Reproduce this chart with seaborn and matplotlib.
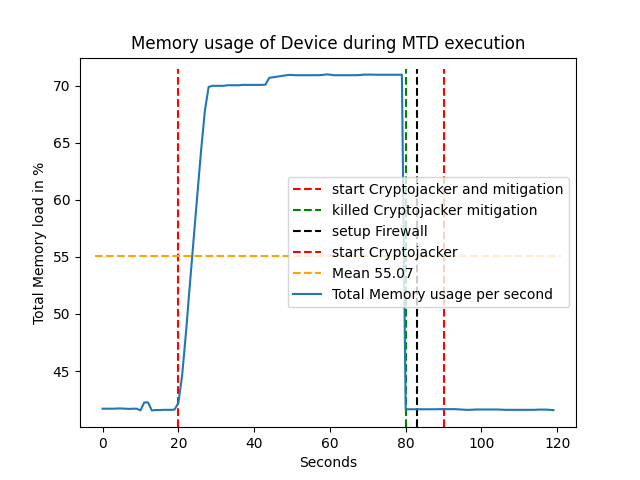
import numpy as np
import pandas as pd
import matplotlib
matplotlib.use("Agg")
import matplotlib.pyplot as plt
import seaborn as sns

# memory load per second
seconds = list(range(120))
memory = [
    41.70, 41.70, 41.70, 41.70, 41.72, 41.72, 41.70, 41.68, 41.70, 41.70,  # 0-9
    41.55, 42.25, 42.25, 41.55, 41.58, 41.58, 41.60, 41.60, 41.60, 41.62,  # 10-19
    42.20, 44.60, 48.30, 52.40, 56.40, 60.40, 64.30, 67.80, 69.90, 70.00,  # 20-29
    70.00, 70.00, 70.00, 70.05, 70.05, 70.05, 70.05, 70.08, 70.08, 70.08,  # 30-39
    70.08, 70.08, 70.08, 70.10, 70.70, 70.75, 70.80, 70.85, 70.90, 70.95,  # 40-49
    70.95, 70.93, 70.93, 70.93, 70.93, 70.93, 70.93, 70.93, 70.95, 71.00,  # 50-59
    70.98, 70.93, 70.93, 70.93, 70.93, 70.93, 70.93, 70.93, 70.95, 70.98,  # 60-69
    70.98, 70.98, 70.97, 70.97, 70.97, 70.97, 70.97, 70.97, 70.97, 70.97,  # 70-79
    41.65, 41.65, 41.65, 41.65, 41.65, 41.65, 41.65, 41.65, 41.65, 41.66,  # 80-89
    41.66, 41.66, 41.66, 41.66, 41.64, 41.62, 41.60, 41.60, 41.62, 41.63,  # 90-99
    41.63, 41.63, 41.63, 41.63, 41.63, 41.62, 41.60, 41.60, 41.60, 41.60,  # 100-109
    41.60, 41.60, 41.60, 41.60, 41.60, 41.62, 41.62, 41.62, 41.60, 41.57,  # 110-119
]
mean_value = 55.07

# events: (second, label, colour)
event_secs = [20, 80, 83, 90]
event_labels = ["start Cryptojacker and mitigation", "killed Cryptojacker mitigation",
                "setup Firewall", "start Cryptojacker"]
event_colors = ["red", "green", "black", "red"]

df = pd.DataFrame({"Seconds": seconds, "memory": memory})

fig, ax = plt.subplots(figsize=(6.4, 4.8), dpi=100)

for sec, lab, col in zip(event_secs, event_labels, event_colors):
    ax.axvline(sec, ymin=0, ymax=0.97, color=col, linestyle="--", label=lab)

ax.axhline(mean_value, xmin=0.03, xmax=0.97, color="orange", linestyle="--",
           label="Mean " + str(mean_value))

sns.lineplot(data=df, x="Seconds", y="memory", ax=ax,
             label="Total Memory usage per second")

ax.set_title("Memory usage of Device during MTD execution")
ax.set_xlabel("Seconds")
ax.set_ylabel("Total Memory load in %")
ax.legend(loc="center right")

plt.savefig("out.png", dpi=100)
